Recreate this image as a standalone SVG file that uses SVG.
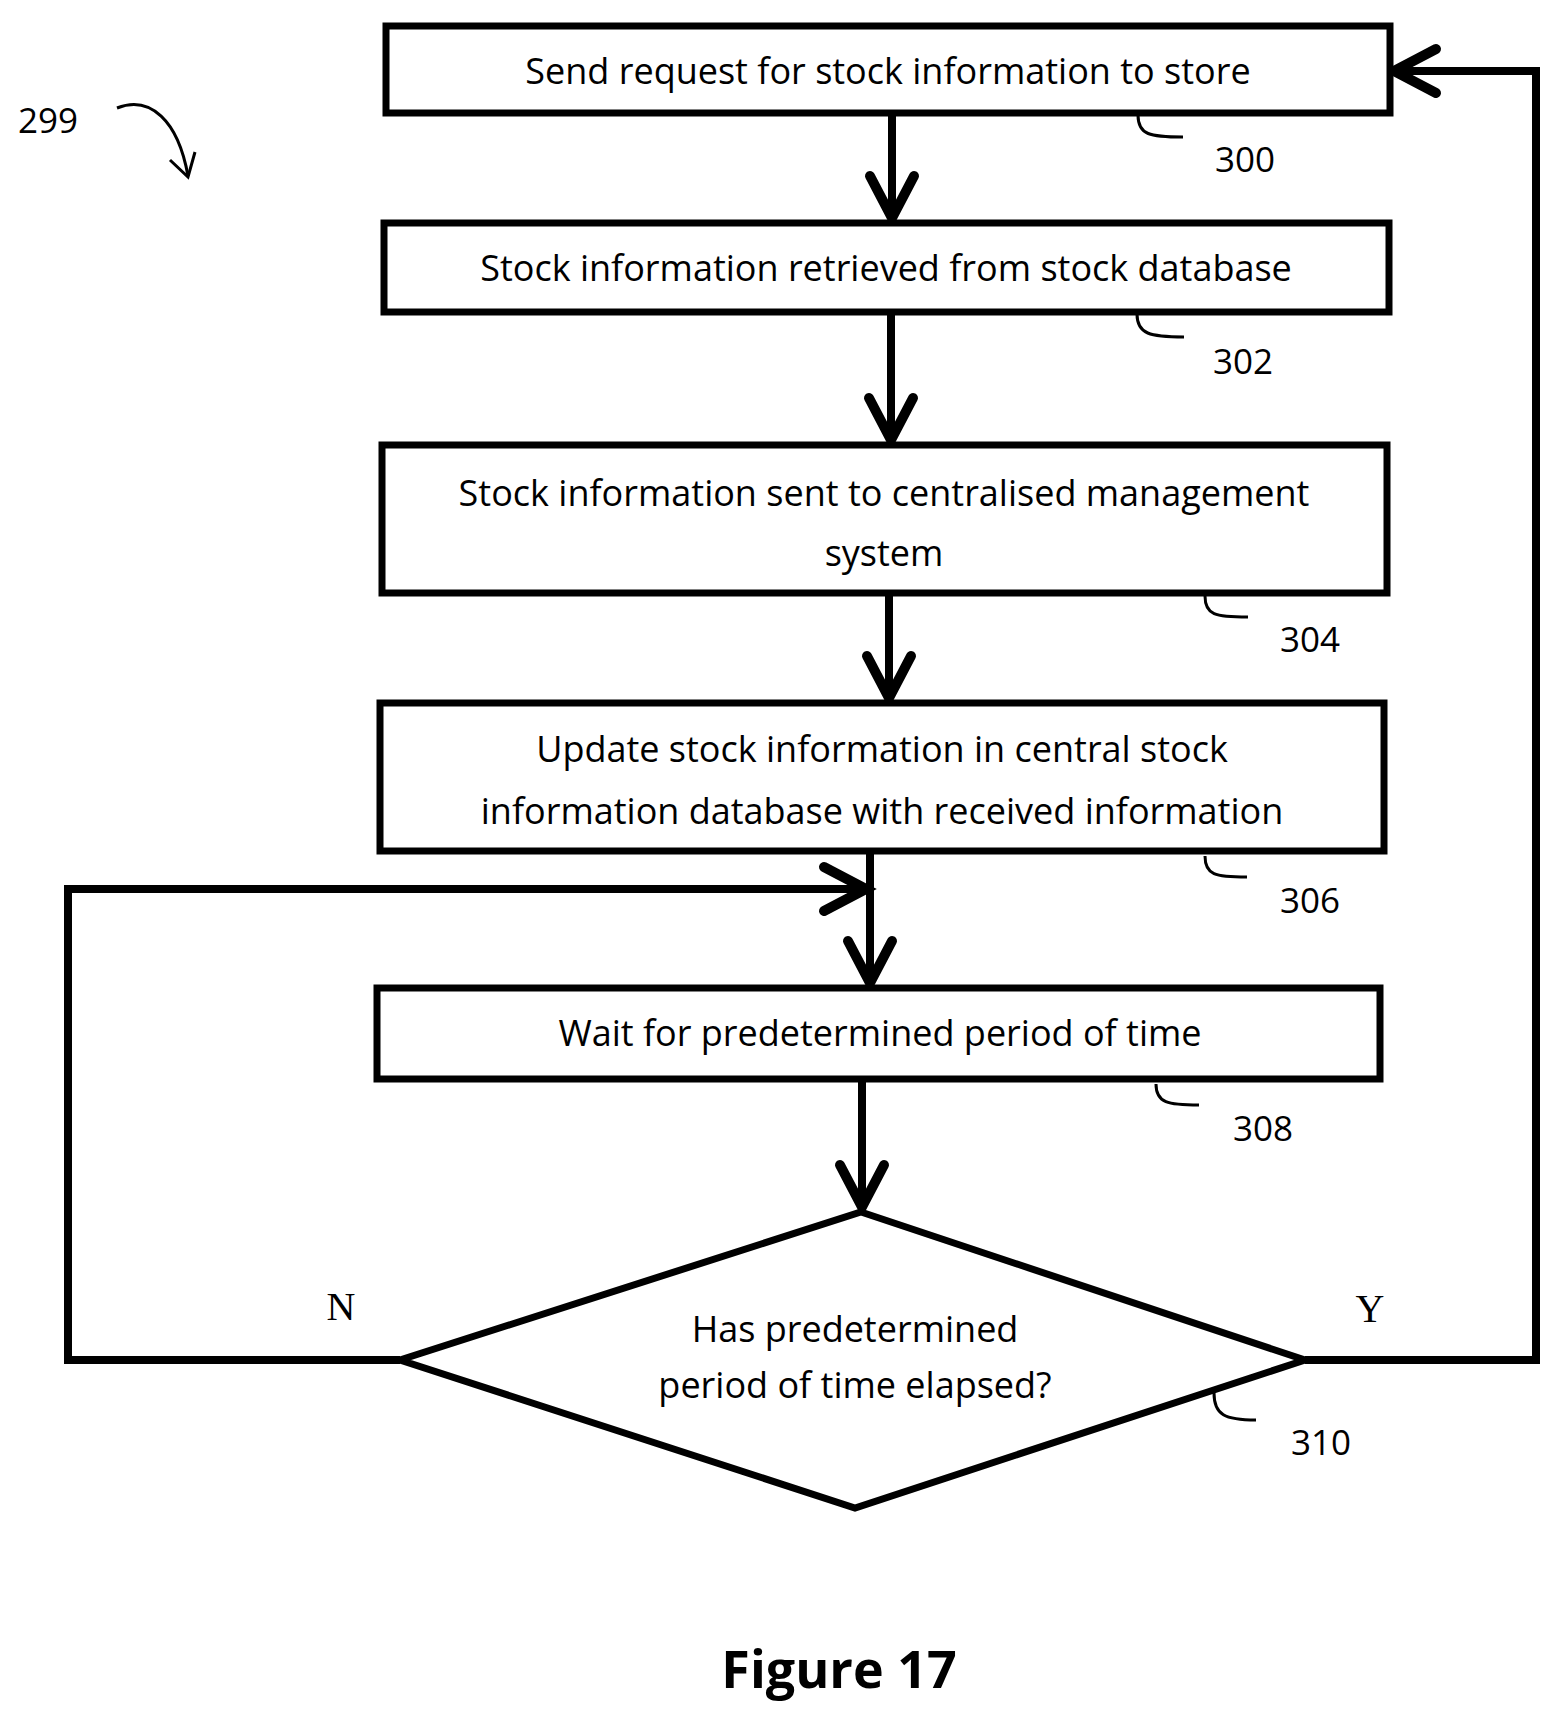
<svg xmlns="http://www.w3.org/2000/svg" width="1563" height="1719" viewBox="0 0 1563 1719">
<style>
.b{fill:#fff;stroke:#000;stroke-width:7}
.t{font-family:"Open Sans","Liberation Sans",sans-serif;font-size:36px;text-anchor:middle;fill:#000}
.r{font-family:"Open Sans","Liberation Sans",sans-serif;font-size:35px;fill:#000}
.c{fill:none;stroke:#000;stroke-width:8}
.h{fill:none;stroke:#000;stroke-width:10;stroke-linecap:round;stroke-linejoin:miter}
.l{fill:none;stroke:#000;stroke-width:3}
</style>
<rect width="1563" height="1719" fill="#fff"/>
<g id="connectors">
<path class="c" d="M892 113V218"/><path class="h" d="M870 176L892 218L914 176"/>
<path class="c" d="M891 312V440"/><path class="h" d="M869 398L891 440L913 398"/>
<path class="c" d="M889 593V698"/><path class="h" d="M867 656L889 698L911 656"/>
<path class="c" d="M870 851V983"/><path class="h" d="M848 941L870 983L892 941"/>
<path class="c" d="M400 1360H68V889H866"/><path class="h" d="M824 867L866 889L824 911"/>
<path class="c" d="M862 1079V1207"/><path class="h" d="M840 1165L862 1207L884 1165"/>
<path class="c" d="M1305 1360H1536V71H1394"/><path class="h" d="M1436 49L1394 71L1436 93"/>
</g>
<g id="n300"><rect class="b" x="386" y="26" width="1004" height="87"/><text class="t" x="888" y="84">Send request for stock information to store</text></g>
<g id="n302"><rect class="b" x="384" y="223" width="1005" height="89"/><text class="t" x="886" y="281">Stock information retrieved from stock database</text></g>
<g id="n304"><rect class="b" x="382" y="445" width="1005" height="148"/><text class="t" x="884" y="506">Stock information sent to centralised management</text><text class="t" x="884" y="566">system</text></g>
<g id="n306"><rect class="b" x="380" y="703" width="1004" height="148"/><text class="t" x="882" y="762">Update stock information in central stock</text><text class="t" x="882" y="824">information database with received information</text></g>
<g id="n308"><rect class="b" x="377" y="988" width="1003" height="91"/><text class="t" x="880" y="1046">Wait for predetermined period of time</text></g>
<g id="n310"><polygon class="b" points="861,1212 1305,1360 855,1508 400,1360"/><text class="t" x="855" y="1342" font-size="33">Has predetermined</text><text class="t" x="855" y="1398" font-size="33">period of time elapsed?</text></g>
<g id="labels">
<text class="r" x="18" y="133">299</text>
<path class="l" d="M117 108C150 95 178 120 188 176"/><path class="l" d="M170 160L188 177L195 152"/>
<text x="341" y="1320" font-family="Liberation Serif,serif" font-size="40" text-anchor="middle">N</text>
<text x="1370" y="1322" font-family="Liberation Serif,serif" font-size="40" text-anchor="middle">Y</text>
<path class="l" d="M1138 115C1138 135 1150 137 1183 137"/><text class="r" x="1215" y="172">300</text>
<path class="l" d="M1137 314C1137 334 1150 337 1184 337"/><text class="r" x="1213" y="374">302</text>
<path class="l" d="M1205 596C1205 615 1215 617 1248 617"/><text class="r" x="1280" y="652">304</text>
<path class="l" d="M1205 856C1205 875 1215 877 1247 877"/><text class="r" x="1280" y="913">306</text>
<path class="l" d="M1156 1084C1156 1103 1168 1105 1199 1105"/><text class="r" x="1233" y="1141">308</text>
<path class="l" d="M1214 1393C1214 1415 1225 1420 1256 1420"/><text class="r" x="1291" y="1455">310</text>
<text x="839" y="1688" font-family="Open Sans,Liberation Sans,sans-serif" font-size="52" font-weight="bold" text-anchor="middle">Figure 17</text>
</g>
</svg>
